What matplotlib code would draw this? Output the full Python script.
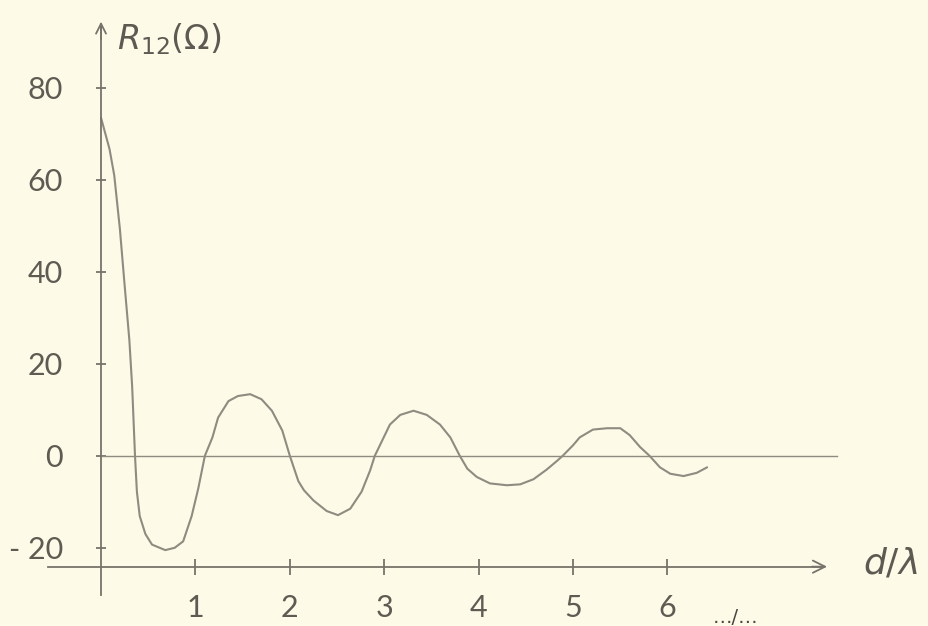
import matplotlib
matplotlib.use("Agg")
import matplotlib.pyplot as plt

# values (d/lambda, R12 in ohm)
d_lambda = [0.00, 0.09, 0.14, 0.20, 0.25, 0.30, 0.33, 0.36, 0.38, 0.41,
            0.47, 0.54, 0.68, 0.78, 0.87, 0.96, 1.03, 1.10, 1.18, 1.24,
            1.35, 1.45, 1.58, 1.70, 1.81, 1.92, 2.00, 2.09, 2.15, 2.25,
            2.39, 2.51, 2.64, 2.76, 2.85, 2.90, 2.98, 3.06, 3.17, 3.31,
            3.45, 3.59, 3.70, 3.80, 3.88, 3.98, 4.12, 4.30, 4.44, 4.58,
            4.72, 4.83, 4.89, 5.00, 5.07, 5.21, 5.36, 5.50, 5.60, 5.71,
            5.81, 5.92, 6.03, 6.17, 6.31, 6.42]
r12 = [73.5, 66.7, 61.0, 49.3, 37.1, 25.2, 15.0, 0.0, -7.8, -13.1,
       -17.0, -19.3, -20.5, -20.0, -18.6, -13.1, -7.1, 0.0, 4.0, 8.3,
       11.9, 13.0, 13.4, 12.3, 9.8, 5.5, 0.0, -5.5, -7.5, -9.7,
       -12.0, -12.9, -11.5, -7.8, -3.2, 0.0, 3.4, 6.8, 8.9, 9.8,
       8.9, 6.8, 4.0, 0.0, -2.8, -4.6, -6.0, -6.4, -6.2, -5.1,
       -3.0, -1.1, 0.0, 2.3, 4.0, 5.7, 6.0, 6.0, 4.5, 1.9,
       0.0, -2.5, -3.9, -4.4, -3.7, -2.5]

y_ticks = [80, 60, 40, 20, 0, -20]
y_tick_labels = ["80", "60", "40", "20", "0", "- 20"]
x_ticks = [1, 2, 3, 4, 5, 6]
x_tick_labels = ["1", "2", "3", "4", "5", "6"]

paper = "#fdfae8"
pencil = "#8e8b80"
dark = "#77736a"
text_col = "#5f5b52"

fig = plt.figure(figsize=(9.29, 6.26), dpi=100, facecolor=paper)
ax = fig.add_axes([0, 0, 1, 1], facecolor=paper)
ax.set_xlim(-1.07, 8.77)
ax.set_ylim(-37.0, 99.1)

x_axis_y = -24.1

# axes drawn as pencil lines crossing at the origin
for side in ["top", "right"]:
    ax.spines[side].set_visible(False)
ax.spines["left"].set_position(("data", 0))
ax.spines["bottom"].set_position(("data", x_axis_y))
ax.spines["left"].set_bounds(-30.2, 93.7)
ax.spines["bottom"].set_bounds(-0.56, 7.65)
for side in ["left", "bottom"]:
    ax.spines[side].set_color(dark)
    ax.spines[side].set_linewidth(1.3)

# arrow heads
ax.annotate("", xy=(0, 95.0), xytext=(0, 90.0),
            arrowprops=dict(arrowstyle="->", color=dark, lw=1.3, mutation_scale=18))
ax.annotate("", xy=(7.72, x_axis_y), xytext=(7.5, x_axis_y),
            arrowprops=dict(arrowstyle="->", color=dark, lw=1.3, mutation_scale=22))

ax.set_yticks(y_ticks)
ax.set_yticklabels(y_tick_labels)
ax.set_xticks(x_ticks)
ax.set_xticklabels(x_tick_labels)
ax.tick_params(axis="y", direction="inout", length=7, width=1.3, color=dark,
               pad=24, labelsize=22, labelcolor=text_col)
ax.tick_params(axis="x", direction="inout", length=12, width=1.3, color=dark,
               pad=14, labelsize=22, labelcolor=text_col)
for lbl in ax.get_xticklabels() + ax.get_yticklabels():
    lbl.set_fontfamily("Lato")
    lbl.set_fontweight("normal")

# zero reference line
ax.plot([0, 7.8], [0, 0], color=pencil, lw=1.0)

# the curve
ax.plot(d_lambda, r12, color=pencil, lw=1.5, solid_capstyle="round",
        solid_joinstyle="round")

ax.text(0.17, 90.5, r"$R_{12}(\Omega)$", fontsize=24, color="#5d5a52",
        ha="left", va="center")
ax.text(8.36, -23.5, r"$d/\lambda$", fontsize=26, color="#5d5a52",
        ha="center", va="center")
ax.text(6.72, -35.2, "\u2026/\u2026", fontsize=14, color="#4a4740",
        ha="center", va="center")

fig.savefig("out.png", dpi=100, facecolor=paper)
